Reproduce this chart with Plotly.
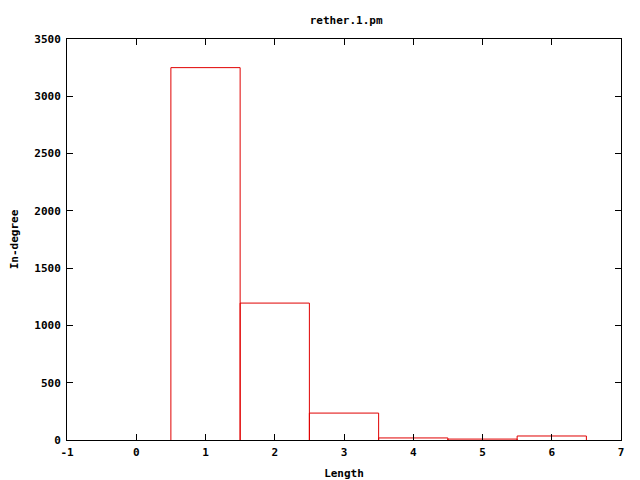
import plotly.graph_objects as go

lengths = [1, 2, 3, 4, 5, 6]
indegree = [3250, 1195, 235, 18, 8, 35]
x_ticks = [-1, 0, 1, 2, 3, 4, 5, 6, 7]
y_ticks = [0, 500, 1000, 1500, 2000, 2500, 3000, 3500]
box_width = 1

font = dict(family="DejaVu Sans Mono", size=11, color="black")

# page body has an 8px margin, so the figure is shrunk by 8px to keep the reference's placement
W, H = 632, 472

# outline of each box (gnuplot "with boxes"), built from the data
bx, by = [], []
for x, y in zip(lengths, indegree):
    h = box_width / 2
    bx += [x - h, x - h, x + h, x + h, None]
    by += [0, y, y, 0, None]

fig = go.Figure()
fig.add_trace(go.Scatter(
    x=bx, y=by, mode="lines", line=dict(color="#e00000", width=1),
    hoverinfo="skip", cliponaxis=False,
))
fig.add_trace(go.Bar(
    x=lengths, y=indegree, width=box_width, opacity=0,
    hovertemplate="Length %{x}: %{y}<extra></extra>",
))

fig.update_layout(
    width=W, height=H,
    margin=dict(l=59, r=19, t=31, b=40, autoexpand=False),
    paper_bgcolor="white", plot_bgcolor="white",
    showlegend=False, bargap=0,
    title=dict(text="<b>rether.1.pm</b>", x=0.535, xanchor="center", y=1 - 12 / H, yanchor="middle", font=font),
    font=font,
)
fig.update_xaxes(
    range=[-1, 7], tickvals=x_ticks, ticktext=[f"<b>{v}</b>" for v in x_ticks],
    ticks="inside", ticklen=6, tickcolor="black", showgrid=False, zeroline=False,
    showline=True, linecolor="black", linewidth=1, mirror="allticks", automargin=False,
    ticklabelstandoff=2,
    title=dict(text="<b>Length</b>", standoff=13, font=font),
)
fig.update_yaxes(
    range=[0, 3500], tickvals=y_ticks, ticktext=[f"<b>{v}</b>" for v in y_ticks],
    ticks="inside", ticklen=6, tickcolor="black", showgrid=False, zeroline=False,
    showline=True, linecolor="black", linewidth=1, mirror="allticks", automargin=False,
    ticklabelstandoff=3,
    title=dict(text="<b>In-degree</b>", standoff=17, font=font),
)

fig.write_html("out.html")
